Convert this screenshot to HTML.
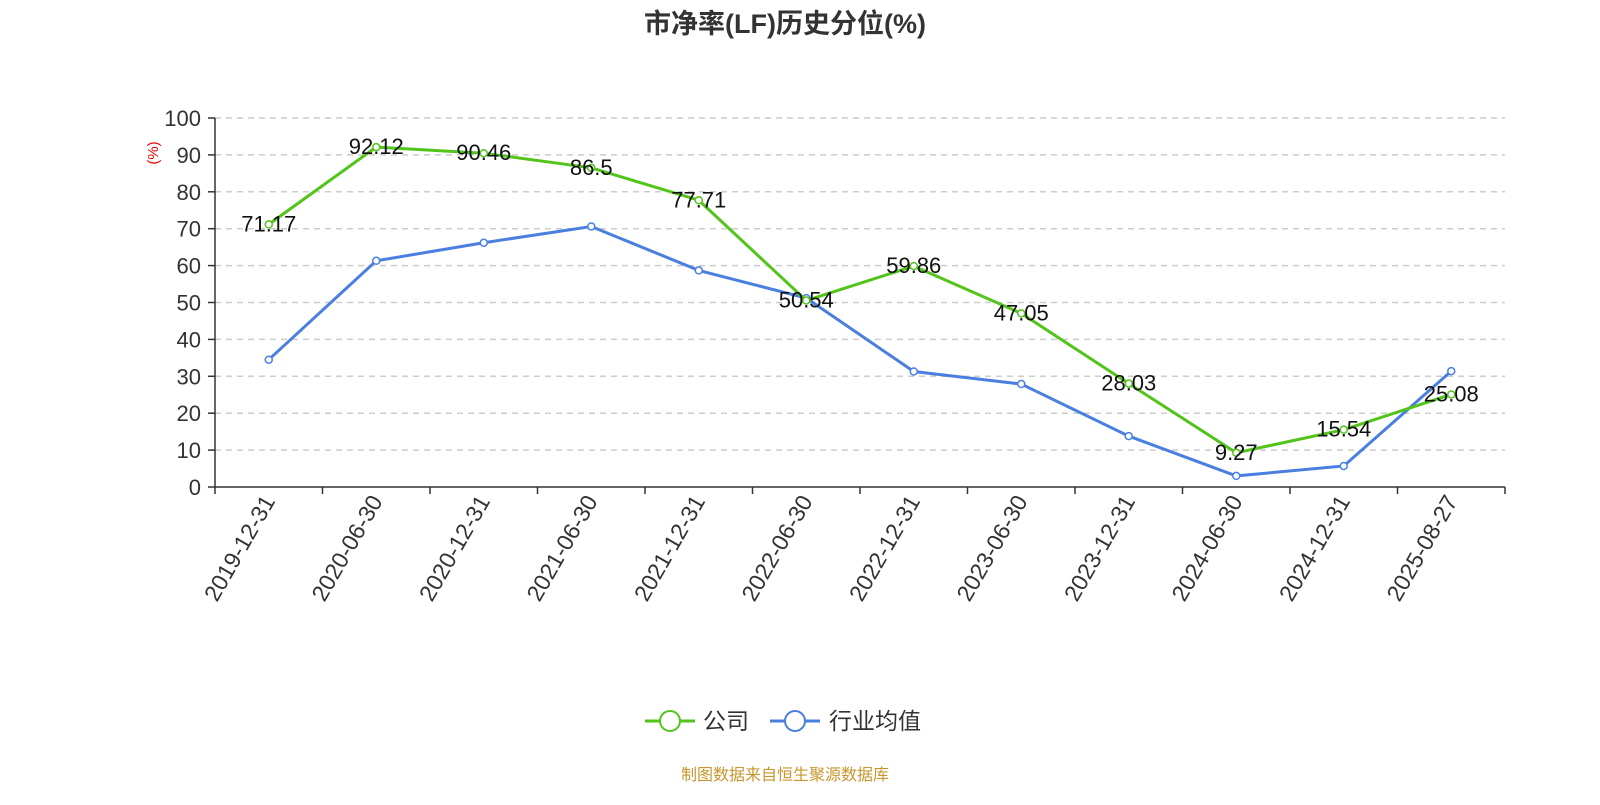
<!DOCTYPE html>
<html><head><meta charset="utf-8"><style>
body{margin:0;background:#fff;}
svg text{font-family:"Liberation Sans","Noto Sans CJK SC",sans-serif;}
</style></head><body>
<svg id="chart" width="1600" height="800" xmlns="http://www.w3.org/2000/svg">
<text x="785" y="33" text-anchor="middle" font-size="27" font-weight="bold" fill="#333">市净率(LF)历史分位(%)</text>
<text transform="translate(158,153) rotate(-90)" text-anchor="middle" font-size="15" fill="#e00">(%)</text>
<g id="grid"></g><g id="axes"></g><g id="series"></g>
<g>
<g>
<line x1="645" y1="721" x2="695" y2="721" stroke="#52c41a" stroke-width="3"/>
<circle cx="670" cy="721" r="10" fill="#fff" stroke="#52c41a" stroke-width="2"/>
<text x="703" y="729" font-size="23" fill="#333">公司</text></g>
<g>
<line x1="770" y1="721" x2="820" y2="721" stroke="#4a7fe0" stroke-width="3"/>
<circle cx="795" cy="721" r="10" fill="#fff" stroke="#4a7fe0" stroke-width="2"/>
<text x="829" y="729" font-size="23" fill="#333">行业均值</text></g>
</g>
<text x="785" y="780" text-anchor="middle" font-size="16" fill="#c8962e">制图数据来自恒生聚源数据库</text>
</svg>
<script>
const categories=["2019-12-31","2020-06-30","2020-12-31","2021-06-30","2021-12-31","2022-06-30","2022-12-31","2023-06-30","2023-12-31","2024-06-30","2024-12-31","2025-08-27"];
const companyValues=[71.17,92.12,90.46,86.5,77.71,50.54,59.86,47.05,28.03,9.27,15.54,25.08];
const industryValues=[34.5,61.3,66.2,70.6,58.7,51.2,31.3,27.9,13.8,3.0,5.7,31.4];
const yTicks=[0,10,20,30,40,50,60,70,80,90,100];
const NS="http://www.w3.org/2000/svg";
const L=215,R=1505,T=118,B=487;
const bw=(R-L)/categories.length;
const xS=i=>L+bw*(i+0.5);
const yS=v=>B-(v/100)*(B-T);
function mk(tag,attrs,parent,text){const e=document.createElementNS(NS,tag);for(const k in attrs)e.setAttribute(k,attrs[k]);if(text!==undefined)e.textContent=text;parent.appendChild(e);return e;}
const grid=document.getElementById('grid'),axes=document.getElementById('axes'),series=document.getElementById('series');
yTicks.forEach(t=>{
 if(t>0){const g=mk('line',{x1:L,x2:R,y1:yS(t),y2:yS(t),stroke:'#ccc','stroke-dasharray':'6,5','stroke-width':1.5},grid);
 
 }
 const tk=mk('line',{x1:L-7,x2:L,y1:yS(t),y2:yS(t),stroke:'#333','stroke-width':1.5},axes);
 
 
 const lb=mk('text',{x:L-14,y:yS(t)+8,'text-anchor':'end','font-size':22,fill:'#333'},axes,t);
 
 
});
const ya=mk('line',{x1:L,x2:L,y1:T,y2:B,stroke:'#333','stroke-width':1.5},axes);


const xa=mk('line',{x1:L,x2:R,y1:B,y2:B,stroke:'#333','stroke-width':1.5},axes);


for(let i=0;i<=categories.length;i++){const t=mk('line',{x1:L+bw*i,x2:L+bw*i,y1:B,y2:B+7,stroke:'#333','stroke-width':1.5},axes);
 
 }
categories.forEach((c,i)=>{const x=xS(i),y=B+14;
 const t=mk('text',{transform:`translate(${x+7},${y}) rotate(-60)`,'text-anchor':'end','font-size':23,fill:'#333'},axes,c);
 
 });
function draw(vals,color,name,labels){
 const p=mk('polyline',{points:vals.map((v,i)=>xS(i)+','+yS(v)).join(' '),fill:'none',stroke:color,'stroke-width':3},series);
 
 
 vals.forEach((v,i)=>{const c=mk('circle',{cx:xS(i),cy:yS(v),r:3.5,fill:'#fff',stroke:color,'stroke-width':1.5},series);
  
  
  if(labels){const t=mk('text',{x:xS(i),y:yS(v)+7,'text-anchor':'middle','font-size':22,fill:'#111'},series,v);
  
  }});
}
draw(industryValues,'#4a7fe0','industry',false);
draw(companyValues,'#52c41a','company',true);
</script>
</body></html>
